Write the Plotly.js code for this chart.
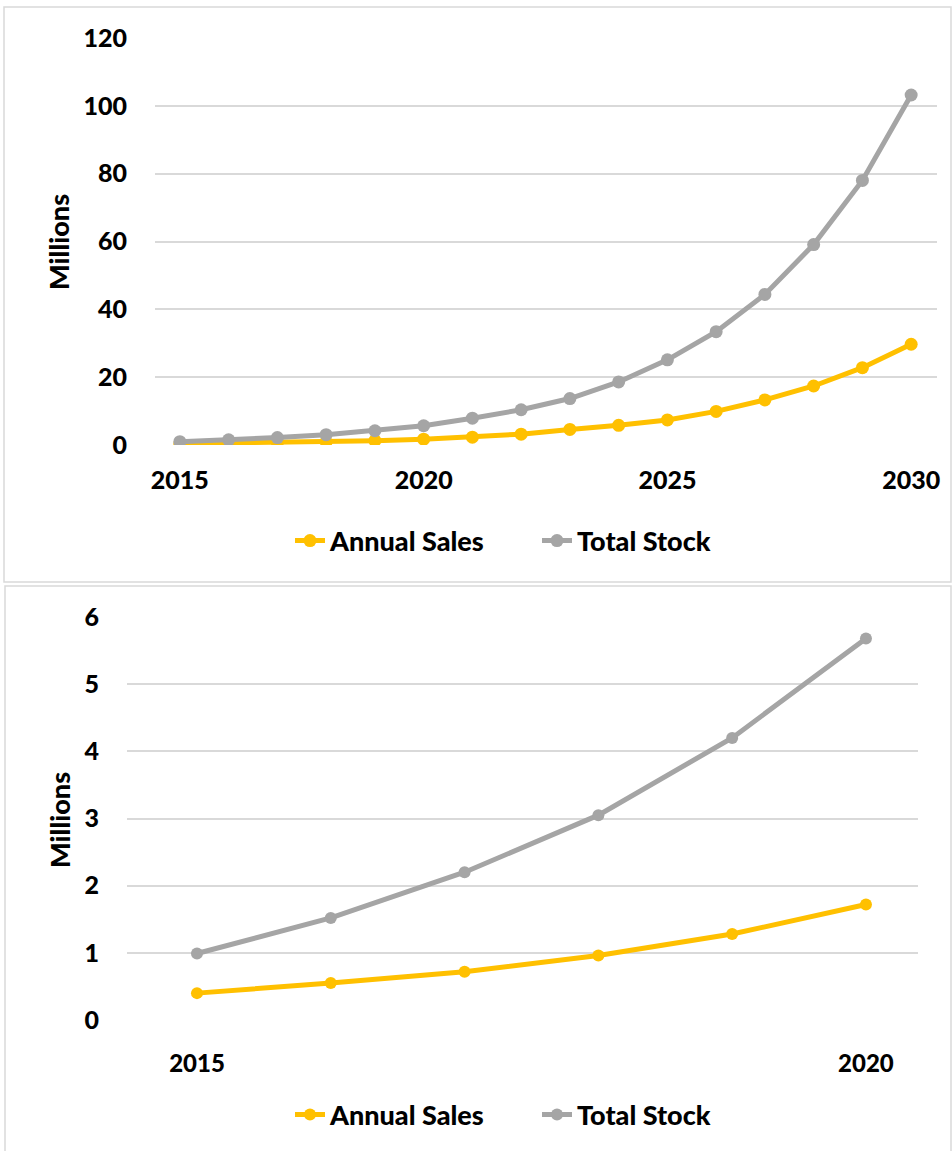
<!DOCTYPE html>
<html><head><meta charset="utf-8">
<script src="https://cdn.plot.ly/plotly-3.0.1.min.js"></script>
<style>html,body{margin:0;padding:0;background:#fff}#c{width:952px;height:1151px}</style>
</head><body><div id="c"></div>
<script>
const years = [2015,2016,2017,2018,2019,2020,2021,2022,2023,2024,2025,2026,2027,2028,2029,2030];
const annualSales = [0.40,0.55,0.72,0.96,1.28,1.72,2.3,3.2,4.6,5.8,7.4,9.9,13.3,17.4,22.8,29.7];
const totalStock  = [0.99,1.52,2.2,3.05,4.2,5.68,7.9,10.4,13.7,18.6,25.1,33.4,44.4,59.1,78.0,103.2];
const topXTicks = [2015,2020,2025,2030];
const bottomXTicks = [2015,2020];
const seriesNames = ['Annual Sales','Total Stock'];
const yTitle = 'Millions';

const W=952,H=1151;
const YELLOW='#FFC000', GRAY='#A5A5A5';
const FONT={family:'Lato, "Open Sans", sans-serif', size:22, color:'#000', weight:900};
const px=(x)=>x/W, py=(y)=>1-y/H;

const nBottom = 6;
const traces = [
 {x:years,y:annualSales,name:seriesNames[0],mode:'lines+markers',line:{color:YELLOW,width:5},marker:{color:YELLOW,size:13},xaxis:'x',yaxis:'y',legend:'legend'},
 {x:years,y:totalStock,name:seriesNames[1],mode:'lines+markers',line:{color:GRAY,width:5},marker:{color:GRAY,size:13},xaxis:'x',yaxis:'y',legend:'legend'},
 {x:years.slice(0,nBottom),y:annualSales.slice(0,nBottom),name:seriesNames[0],mode:'lines+markers',line:{color:YELLOW,width:5},marker:{color:YELLOW,size:12},xaxis:'x2',yaxis:'y2',legend:'legend2'},
 {x:years.slice(0,nBottom),y:totalStock.slice(0,nBottom),name:seriesNames[1],mode:'lines+markers',line:{color:GRAY,width:5},marker:{color:GRAY,size:12},xaxis:'x2',yaxis:'y2',legend:'legend2'}
];

const gridc='#D9D9D9';
const TICKF={...FONT,size:25};
const LEGF={...FONT,size:27};
const legendBase={orientation:'h',xanchor:'left',yanchor:'middle',font:LEGF,bgcolor:'rgba(0,0,0,0)',entrywidth:202,entrywidthmode:'pixels'};
const layout = {
 width:W,height:H,margin:{l:0,r:0,t:0,b:0},paper_bgcolor:'#fff',plot_bgcolor:'rgba(0,0,0,0)',
 font:FONT, showlegend:true,
 xaxis:{domain:[px(155),px(937)],range:[2014.49,2030.53],tickvals:topXTicks,ticktext:topXTicks.map(String),showgrid:false,zeroline:false,showline:false,ticks:'',ticklabelstandoff:18,tickfont:TICKF,fixedrange:true},
 yaxis:{domain:[py(445),py(38)],range:[0,120],dtick:20,showgrid:true,gridcolor:gridc,gridwidth:2,zeroline:false,showline:false,ticks:'',ticklabelstandoff:27,tickfont:TICKF},
 xaxis2:{domain:[px(127),px(918)],range:[2014.477,2020.389],tickvals:bottomXTicks,ticktext:bottomXTicks.map(String),showgrid:false,zeroline:false,showline:false,ticks:'',ticklabelstandoff:27,tickfont:{...FONT,size:24},anchor:'y2'},
 yaxis2:{domain:[py(1020),py(617)],range:[0,6],dtick:1,showgrid:true,gridcolor:gridc,gridwidth:2,zeroline:false,showline:false,ticks:'',ticklabelstandoff:27,tickfont:TICKF,anchor:'x2'},
 legend:{...legendBase,x:px(290),y:py(541)},
 legend2:{...legendBase,x:px(290),y:py(1115)},
 annotations:[
  {text:yTitle,xref:'paper',yref:'paper',x:px(59),y:py(242),textangle:-90,showarrow:false,font:{...FONT,size:27},xanchor:'center',yanchor:'middle'},
  {text:yTitle,xref:'paper',yref:'paper',x:px(59),y:py(820),textangle:-90,showarrow:false,font:{...FONT,size:27},xanchor:'center',yanchor:'middle'}
 ],
 shapes:[
  {type:'rect',xref:'paper',yref:'paper',x0:px(4),x1:px(951),y0:py(582),y1:py(7),line:{color:'#D9D9D9',width:1.5},layer:'below'},
  {type:'rect',xref:'paper',yref:'paper',x0:px(5),x1:px(951),y0:py(1152),y1:py(586),line:{color:'#D9D9D9',width:1.5},layer:'below'}
 ]
};
Plotly.newPlot('c',traces,layout,{displayModeBar:false,staticPlot:true});
</script></body></html>
